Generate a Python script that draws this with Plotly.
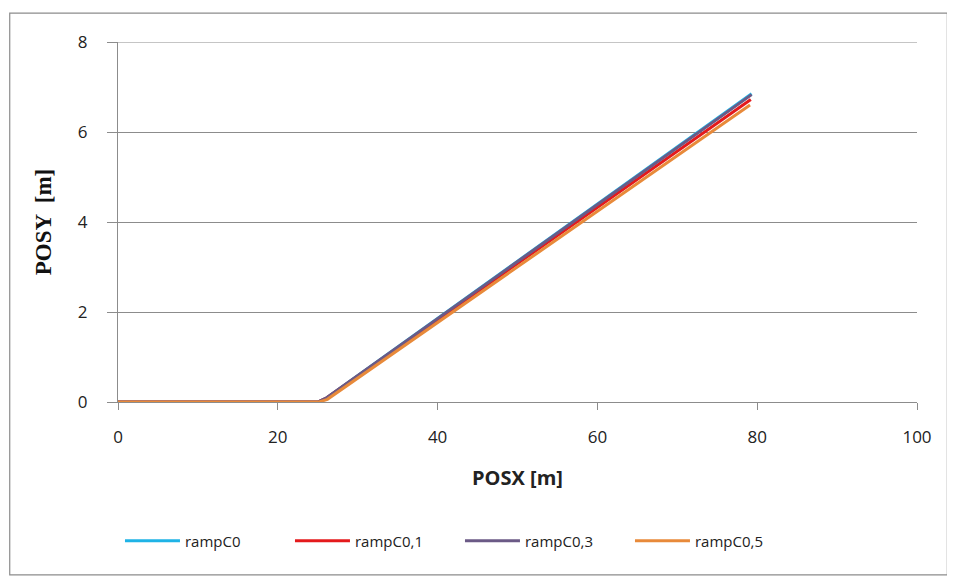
import plotly.graph_objects as go

# ── Data ─────────────────────────────────────────────────────────────────────
SERIES_NAMES = ['rampC0', 'rampC0,1', 'rampC0,3', 'rampC0,5']
X_C0 = [0, 25.0, 26.0, 79.3]
Y_C0 = [0, 0, 0.08, 6.85]
X_C01 = [0, 25.0, 26.0, 79.2]
Y_C01 = [0, 0, 0.08, 6.72]
X_C03 = [0, 25.0, 26.0, 79.3]
Y_C03 = [0, 0, 0.08, 6.83]
X_C05 = [0, 25.2, 26.2, 79.1]
Y_C05 = [0, 0, 0.06, 6.60]

COLORS = ['#1fb3e6', '#e41a1c', '#6b5a86', '#e88a3a']
GRID = '#8c8c8c'
TICK_FONT = dict(family='Open Sans', size=17, color='#222222')

fig = go.Figure()
for name, xs, ys, col in zip(SERIES_NAMES, [X_C0, X_C01, X_C03, X_C05],
                             [Y_C0, Y_C01, Y_C03, Y_C05], COLORS):
    fig.add_trace(go.Scatter(
        x=xs, y=ys, mode='lines', name=name,
        line=dict(color=col, width=3),
    ))

# outer chart border
fig.add_shape(type='rect', xref='paper', yref='paper',
              x0=-0.1355, x1=1.038, y0=-0.480, y1=1.080,
              line=dict(color=GRID, width=1.2), fillcolor='rgba(0,0,0,0)', layer='below')
# top gridline (plotly drops the one on the range edge)
fig.add_shape(type='line', xref='paper', yref='y', x0=0, x1=1, y0=8, y1=8,
              line=dict(color=GRID, width=1.2), layer='below')

fig.update_layout(
    width=947, height=576,
    paper_bgcolor='white', plot_bgcolor='white',
    margin=dict(l=110, r=38, t=34, b=182),
    showlegend=True,
    legend=dict(
        orientation='h', xanchor='center', x=0.428, yanchor='middle', y=-0.386,
        font=dict(family='Open Sans', size=15, color='#222222'),
        itemwidth=55, entrywidth=100, tracegroupgap=0,
    ),
    xaxis=dict(
        range=[0, 100], dtick=20, tick0=0,
        showgrid=False, zeroline=False,
        showline=True, linecolor=GRID, linewidth=1.2,
        ticks='outside', ticklen=7, tickcolor=GRID,
        tickfont=TICK_FONT, ticklabelstandoff=12,
        title=dict(text='<b>POSX [m]</b>', font=dict(family='Open Sans', size=20, color='#222222'),
                   standoff=24),
    ),
    yaxis=dict(
        range=[0, 8], dtick=2, tick0=0,
        showgrid=True, gridcolor=GRID, gridwidth=1.2,
        zeroline=False,
        showline=True, linecolor=GRID, linewidth=1.2,
        ticks='outside', ticklen=10, tickcolor=GRID,
        tickfont=TICK_FONT, ticklabelstandoff=16,
        title=dict(text='<b>POSY  [m]</b>', font=dict(family='Liberation Serif', size=23, color='#111111'),
                   standoff=19),
    ),
)

fig.write_html('out.html')
